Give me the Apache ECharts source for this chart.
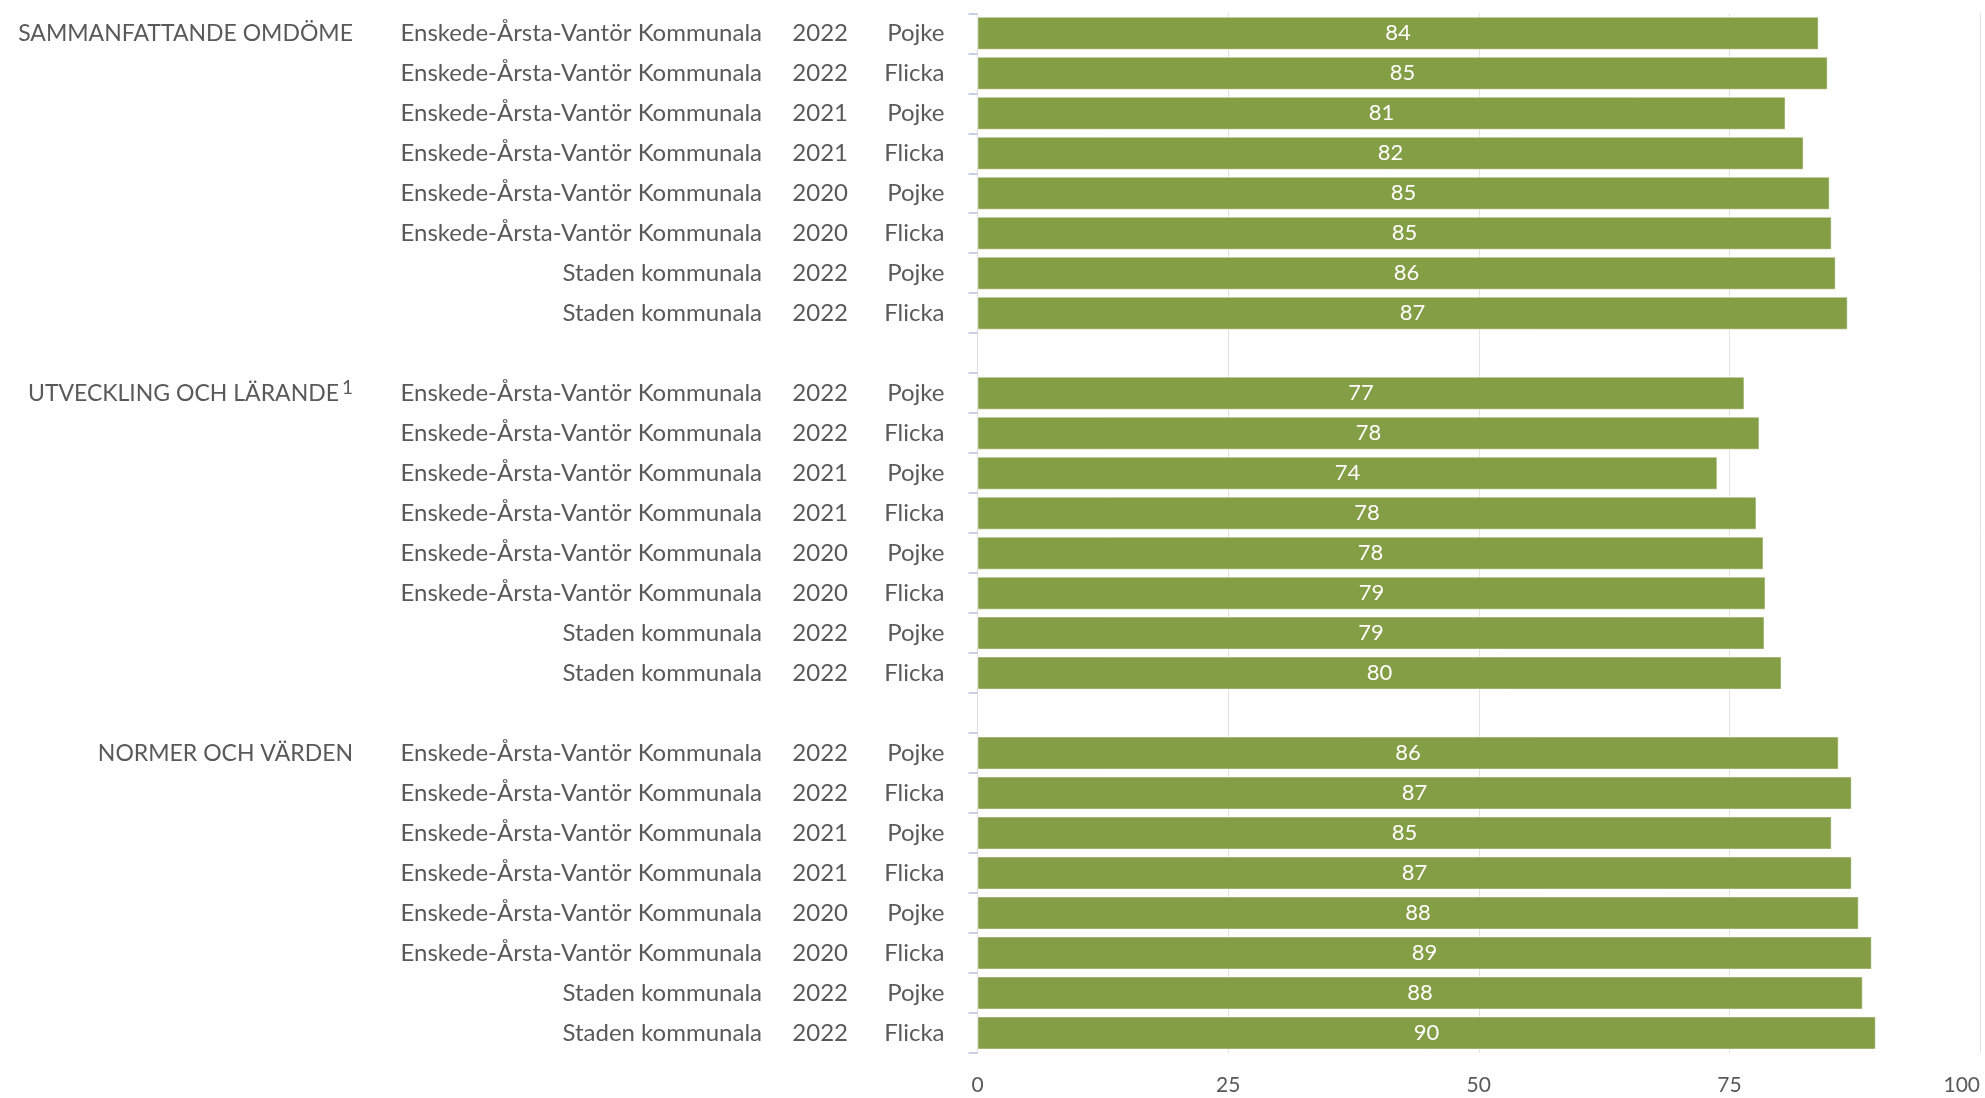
<!DOCTYPE html>
<html>
<head>
<meta charset="utf-8">
<script src="https://cdn.jsdelivr.net/npm/echarts@6/dist/echarts.min.js"></script>
<style>
  html, body { margin: 0; padding: 0; background: #fff; }
  #main { width: 1985px; height: 1098px; }
</style>
</head>
<body>
<div id="main"></div>
<script>
// grupper (rubriker till vänster)
var groups = ['SAMMANFATTANDE OMDÖME', 'UTVECKLING OCH LÄRANDE', 'NORMER OCH VÄRDEN']
var groupNotes = ['', '1', '']

// rader inom varje grupp
var units = [
  'Enskede-Årsta-Vantör Kommunala', 'Enskede-Årsta-Vantör Kommunala',
  'Enskede-Årsta-Vantör Kommunala', 'Enskede-Årsta-Vantör Kommunala',
  'Enskede-Årsta-Vantör Kommunala', 'Enskede-Årsta-Vantör Kommunala',
  'Staden kommunala', 'Staden kommunala'
]
var years = ['2022', '2022', '2021', '2021', '2020', '2020', '2022', '2022']
var genders = ['Pojke', 'Flicka', 'Pojke', 'Flicka', 'Pojke', 'Flicka', 'Pojke', 'Flicka']

// värden
var sammanfattande = [83.9, 84.8, 80.6, 82.4, 85.0, 85.2, 85.6, 86.8]
var utveckling = [76.5, 78.0, 73.8, 77.7, 78.4, 78.6, 78.5, 80.2]
var normer = [85.9, 87.2, 85.2, 87.2, 87.9, 89.2, 88.3, 89.6]

var xTicks = [0, 25, 50, 75, 100]

var groupValues = [sammanfattande, utveckling, normer]

// bygg kategorier, med en tom rad mellan grupperna
var groupCol = []
var noteCol = []
var unitCol = []
var yearCol = []
var genderCol = []
var values = []
groups.forEach(function (g, gi) {
  units.forEach(function (u, i) {
    groupCol.push(i === 0 ? g : '')
    noteCol.push(i === 0 ? groupNotes[gi] : '')
    unitCol.push(u)
    yearCol.push(years[i])
    genderCol.push(genders[i])
    values.push(groupValues[gi][i])
  })
  if (gi < groups.length - 1) {
    groupCol.push('')
    noteCol.push('')
    unitCol.push('')
    yearCol.push('')
    genderCol.push('')
    values.push(null)
  }
})

var textColor = '#595959'
var font = 'Lato'
var labelSize = 24

function catAxis(data, align, margin, extra) {
  var ax = {
    type: 'category',
    inverse: true,
    position: 'left',
    data: data,
    axisLine: { show: false },
    axisTick: { show: false },
    splitLine: { show: false },
    axisLabel: {
      interval: 0,
      align: align,
      margin: margin,
      color: textColor,
      fontFamily: font,
      fontSize: labelSize
    }
  }
  if (extra) extra(ax)
  return ax
}

var chart = echarts.init(document.getElementById('main'))

var option = {
  backgroundColor: '#fff',
  animation: false,
  grid: {
    left: 977.5,
    right: 5,
    top: 13.3,
    bottom: 45
  },
  xAxis: {
    type: 'value',
    min: xTicks[0],
    max: xTicks[xTicks.length - 1],
    interval: 25,
    axisLine: { show: false },
    axisTick: { show: false },
    splitLine: { lineStyle: { color: '#e2e2e2', width: 1 } },
    axisLabel: {
      color: textColor,
      fontFamily: font,
      fontSize: 21,
      margin: 22,
      alignMaxLabel: 'right'
    }
  },
  yAxis: [
    catAxis(genderCol, 'right', 33, function (ax) {
      ax.axisLine = { show: true, lineStyle: { color: '#dcdcdc', width: 1 } }
      ax.axisTick = { show: true, length: 9, lineStyle: { color: '#c8d0e4', width: 2 } }
    }),
    catAxis(yearCol, 'right', 129.5),
    catAxis(unitCol, 'right', 215.5),
    catAxis(groupCol, 'right', 624.5, function (ax) {
      ax.axisLabel.formatter = function (value, index) {
        if (!value) return ''
        var s = '{g|' + value + '}'
        if (noteCol[index]) s += '{sup|' + noteCol[index] + '}'
        return s
      }
      ax.axisLabel.rich = {
        g: { color: textColor, fontFamily: font, fontSize: 23, lineHeight: 30 },
        sup: { color: textColor, fontFamily: font, fontSize: 19, verticalAlign: 'top', lineHeight: 19, padding: [0, 0, 6, 3] }
      }
    })
  ],
  series: [
    {
      type: 'bar',
      yAxisIndex: 0,
      data: values,
      barWidth: 33,
      itemStyle: {
        color: '#849e46',
        borderColor: 'rgba(255,255,255,0.45)',
        borderWidth: 1
      },
      label: {
        show: true,
        position: 'inside',
        color: '#fff',
        fontFamily: font,
        fontSize: 22,
        formatter: function (p) {
          return p.value == null ? '' : Math.round(p.value)
        }
      }
    }
  ]
}

chart.setOption(option)
</script>
</body>
</html>
